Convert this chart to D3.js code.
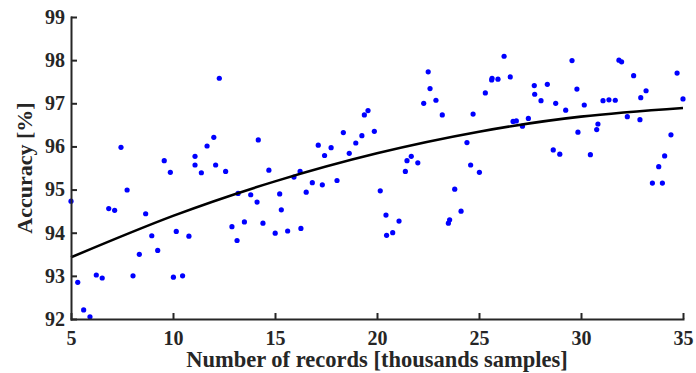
<!DOCTYPE html>
<html>
<head>
<meta charset="utf-8">
<script src="https://cdn.jsdelivr.net/npm/d3@7"></script>
<style>
  body { margin: 0; background: #fff; }
  svg { display: block; }
  .axis path, .axis line { stroke: #262626; stroke-width: 2; }
  .axis text { font-family: "Liberation Serif", "Times New Roman", serif; font-weight: bold; font-size: 20px; fill: #262626; }
  .axis-label { font-family: "Liberation Serif", "Times New Roman", serif; font-weight: bold; fill: #262626; }
</style>
</head>
<body>
<div id="chart"></div>
<script>
const WIDTH = 696;
const HEIGHT = 373;
const MARGIN = { top: 17, right: 13, bottom: 54, left: 71 };

// measured samples (thousands) and accuracy (%)
const sampleX = [
  5.00, 5.33, 5.62, 5.93, 6.24, 6.53, 6.85, 7.14, 7.45, 7.75,
  8.04, 8.35, 8.66, 8.96, 9.25, 9.57, 9.87, 10.02, 10.16, 10.47,
  10.78, 11.08, 11.08, 11.39, 11.67, 12.00, 12.09, 12.27, 12.58, 12.89,
  13.14, 13.19, 13.50, 13.81, 14.12, 14.18, 14.41, 14.70, 15.01, 15.23,
  15.31, 15.62, 15.93, 16.23, 16.27, 16.53, 16.83, 17.12, 17.32, 17.43,
  17.75, 18.04, 18.35, 18.64, 18.96, 19.26, 19.38, 19.56, 19.87, 20.16,
  20.44, 20.47, 20.77, 21.08, 21.39, 21.47, 21.68, 22.00, 22.29, 22.51,
  22.60, 22.89, 23.20, 23.50, 23.56, 23.81, 24.12, 24.41, 24.59, 24.71,
  25.02, 25.31, 25.62, 25.64, 25.93, 26.23, 26.53, 26.67, 26.83, 27.13,
  27.42, 27.71, 27.73, 28.04, 28.35, 28.64, 28.76, 28.96, 29.25, 29.56,
  29.80, 29.85, 30.16, 30.46, 30.77, 30.83, 31.08, 31.37, 31.68, 31.86,
  31.99, 32.27, 32.58, 32.89, 32.93, 33.19, 33.50, 33.81, 33.99, 34.10,
  34.41, 34.71, 35.00
];
const accuracy = [
  94.73, 92.85, 92.21, 92.05, 93.02, 92.95, 94.56, 94.52, 95.98, 94.99,
  93.00, 93.50, 94.44, 93.93, 93.59, 95.67, 95.40, 92.97, 94.03, 93.00,
  93.92, 95.77, 95.57, 95.39, 96.01, 96.21, 95.57, 97.58, 95.42, 94.14,
  93.82, 94.91, 94.25, 94.88, 94.71, 96.15, 94.22, 95.45, 93.99, 94.90,
  94.53, 94.04, 95.29, 95.42, 94.10, 94.94, 95.16, 96.03, 95.11, 95.79,
  95.97, 95.21, 96.32, 95.84, 96.08, 96.25, 96.73, 96.83, 96.35, 94.97,
  94.41, 93.94, 94.00, 94.27, 95.42, 95.67, 95.77, 95.62, 97.00, 97.73,
  97.34, 97.07, 96.73, 94.22, 94.30, 95.01, 94.50, 96.09, 95.57, 96.75,
  95.40, 97.24, 97.54, 97.58, 97.56, 98.09, 97.61, 96.58, 96.59, 96.47,
  96.65, 97.41, 97.21, 97.06, 97.44, 95.92, 97.00, 95.82, 96.84, 97.99,
  97.33, 96.33, 96.96, 95.81, 96.39, 96.52, 97.06, 97.08, 97.07, 98.00,
  97.96, 96.69, 97.64, 96.62, 97.13, 97.29, 95.15, 95.53, 95.15, 95.78,
  96.27, 97.70, 97.10
];

// fitted trend
const fitX = [5, 10, 15, 20, 25, 30, 35];
const fitY = [93.43, 94.39, 95.19, 95.84, 96.34, 96.69, 96.89];

const xTicks = [5, 10, 15, 20, 25, 30, 35];
const yTicks = [92, 93, 94, 95, 96, 97, 98, 99];

const svg = d3.select('#chart')
  .append('svg')
  .attr('width', WIDTH)
  .attr('height', HEIGHT);

const xScale = d3.scaleLinear()
  .domain([5, 35])
  .range([MARGIN.left, WIDTH - MARGIN.right]);

const yScale = d3.scaleLinear()
  .domain([92, 99])
  .range([HEIGHT - MARGIN.bottom, MARGIN.top]);

// scatter
svg.append('g')
  .selectAll('circle')
  .data(sampleX.map((x, i) => ({ x, y: accuracy[i] })))
  .enter()
  .append('circle')
  .attr('cx', d => xScale(d.x))
  .attr('cy', d => yScale(d.y))
  .attr('r', 2.6)
  .attr('fill', '#0000ff');

// trend line
const line = d3.line()
  .x(d => xScale(d[0]))
  .y(d => yScale(d[1]))
  .curve(d3.curveNatural);

svg.append('path')
  .datum(fitX.map((x, i) => [x, fitY[i]]))
  .attr('fill', 'none')
  .attr('stroke', '#000')
  .attr('stroke-width', 2.6)
  .attr('d', line);

// axes, ticks pointing inward
svg.append('g')
  .attr('class', 'axis')
  .attr('transform', `translate(0, ${HEIGHT - MARGIN.bottom})`)
  .call(d3.axisBottom(xScale).tickValues(xTicks).tickFormat(d3.format('d'))
    .tickSizeInner(-6).tickSizeOuter(0).tickPadding(12));

svg.append('g')
  .attr('class', 'axis')
  .attr('transform', `translate(${MARGIN.left}, 0)`)
  .call(d3.axisLeft(yScale).tickValues(yTicks).tickFormat(d3.format('d'))
    .tickSizeInner(-6).tickSizeOuter(0).tickPadding(6));

svg.selectAll('.axis .domain').attr('stroke-linecap', 'square');

// axis labels
svg.append('text')
  .attr('class', 'axis-label')
  .attr('x', 377)
  .attr('y', 367)
  .attr('text-anchor', 'middle')
  .attr('font-size', '22.5px')
  .text('Number of records [thousands samples]');

svg.append('text')
  .attr('class', 'axis-label')
  .attr('transform', `translate(32, ${(MARGIN.top + HEIGHT - MARGIN.bottom) / 2}) rotate(-90)`)
  .attr('text-anchor', 'middle')
  .attr('font-size', '22px')
  .text('Accuracy [%]');
</script>
</body>
</html>
